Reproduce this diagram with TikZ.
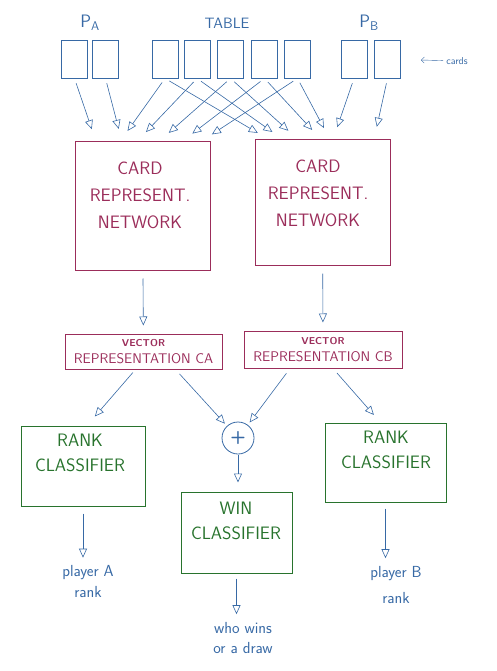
\documentclass[tikz,border=0pt]{standalone}
\usetikzlibrary{arrows.meta}
\definecolor{penblue}{RGB}{55,105,165}
\definecolor{penred}{RGB}{155,45,90}
\definecolor{pengreen}{RGB}{40,115,45}

\begin{document}
\begin{tikzpicture}[x=1pt, y=-1pt, every node/.style={font=\sffamily, inner sep=0pt},
	card/.style={draw=penblue, thick, minimum width=26pt, minimum height=38pt},
	netbox/.style={draw=penred, line width=1pt},
	clsbox/.style={draw=pengreen, line width=1pt},
	redtxt/.style={text=penred, align=center, font=\sffamily\fontsize{18}{27}\selectfont},
	greentxt/.style={text=pengreen, align=center, font=\sffamily\fontsize{18}{25}\selectfont},
	bluetxt/.style={text=penblue, align=center, font=\sffamily\fontsize{16}{21}\selectfont},
	flow/.style={draw=penblue, semithick, -{Triangle[open, length=9pt, width=8pt]}}]

	\useasboundingbox (0,0) rectangle (496,671);

	% cards
	\node[card] (pa1) at (74.5,59) {};
	\node[card] (pa2) at (105.5,59) {};
	\node[card] (t1) at (165,59) {};
	\node[card] (t2) at (197,59) {};
	\node[card] (t3) at (230.5,59) {};
	\node[card] (t4) at (264.5,59) {};
	\node[card] (t5) at (297.5,59) {};
	\node[card] (pb1) at (354,59) {};
	\node[card] (pb2) at (387.5,59) {};

	\node[bluetxt, font=\sffamily\fontsize{18}{18}\selectfont] (palbl) at (90,23) {P\textsubscript{A}};
	\node[bluetxt, font=\sffamily\fontsize{15}{15}\selectfont] (tablelbl) at (227,23) {TABLE};
	\node[bluetxt, font=\sffamily\fontsize{18}{18}\selectfont] (pblbl) at (369,23) {P\textsubscript{B}};
	\node[bluetxt, font=\sffamily\fontsize{10}{10}\selectfont] (cardslbl) at (457,61) {cards};
	\coordinate (cardsptr) at (421,60);
	\draw[penblue, shorten <=3pt, -{Straight Barb[length=3pt]}] (cardslbl) -- (cardsptr);

	% networks
	\node[netbox, minimum width=135pt, minimum height=128pt] (neta) at (142.5,206) {};
	\node[netbox, minimum width=135pt, minimum height=125pt] (netb) at (322.5,202.5) {};
	\node[redtxt] (netatxt) at (140,195) {CARD\\REPRESENT.\\NETWORK};
	\node[redtxt] (netbtxt) at (318,193) {CARD\\REPRESENT.\\NETWORK};

	\foreach \c/\s in {pa1/-46.5, pa2/-20.5, t1/-22.5, t2/-5.5, t3/16.5, t4/39.5, t5/58.5}
		\draw[flow, shorten <=5pt, shorten >=13pt] (\c.south) -- ([xshift=\s pt]neta.north);
	\foreach \c/\s in {t1/-53.5, t2/-39.5, t3/-24.5, t4/-1.5, t5/7.5, pb1/10.5, pb2/51.5}
		\draw[flow, shorten <=5pt, shorten >=13pt] (\c.south) -- ([xshift=\s pt]netb.north);

	% vectors
	\node[netbox, minimum width=157pt, minimum height=35pt] (veca) at (143.5,351.5) {};
	\node[netbox, minimum width=158pt, minimum height=37pt] (vecb) at (323,349.5) {};
	\node[redtxt, font=\sffamily\fontsize{14}{17}\selectfont] (vecatxt) at (143.5,352)
		{{\bfseries\fontsize{10}{10}\selectfont VECTOR}\\REPRESENTATION CA};
	\node[redtxt, font=\sffamily\fontsize{14}{17}\selectfont] (vecbtxt) at (323,350)
		{{\bfseries\fontsize{10}{10}\selectfont VECTOR}\\REPRESENTATION CB};

	\draw[flow, shorten <=8pt, shorten >=8pt] (neta) -- (veca);
	\draw[flow, shorten <=8pt, shorten >=8pt] (netb) -- (vecb);

	% classifiers
	\node[draw=penblue, thick, circle, minimum size=32pt, text=penblue, font=\sffamily\bfseries\fontsize{18}{18}\selectfont] (plus) at (238,438) {+};
	\node[clsbox, minimum width=124pt, minimum height=80pt] (ranka) at (83,466) {};
	\node[clsbox, minimum width=111pt, minimum height=81pt] (win) at (236.5,532.5) {};
	\node[clsbox, minimum width=121pt, minimum height=79pt] (rankb) at (385.5,462.5) {};
	\node[greentxt] (rankatxt) at (80,453) {RANK\\CLASSIFIER};
	\node[greentxt] (wintxt) at (236,521) {WIN\\CLASSIFIER};
	\node[greentxt] (rankbtxt) at (386,450) {RANK\\CLASSIFIER};

	\draw[flow, shorten <=4pt, shorten >=12pt] ([xshift=-8pt]veca.south) -- ([xshift=4pt]ranka.north);
	\draw[flow, shorten <=6pt, shorten >=3pt] ([xshift=32pt]veca.south) -- (plus);
	\draw[flow, shorten <=6pt, shorten >=3pt] ([xshift=-33pt]vecb.south) -- (plus);
	\draw[flow, shorten <=6pt, shorten >=10pt] ([xshift=10pt]vecb.south) -- ([xshift=-5pt]rankb.north);
	\draw[flow, shorten <=1pt, shorten >=9pt] (plus) -- (plus |- win.north);

	% outputs
	\node[bluetxt] (outa) at (88,582) {player A\\rank};
	\node[bluetxt, font=\sffamily\fontsize{16}{20}\selectfont] (outwin) at (243,638) {who wins\\or a draw};
	\node[bluetxt, font=\sffamily\fontsize{16}{26}\selectfont] (outb) at (396,585) {player B\\rank};

	\draw[flow, shorten <=7pt, shorten >=8pt] (ranka) -- (ranka |- outa.north);
	\draw[flow, shorten <=5pt, shorten >=8pt] (win) -- (win |- outwin.north);
	\draw[flow, shorten <=6pt, shorten >=8pt] (rankb) -- (rankb |- outb.north);

\end{tikzpicture}
\end{document}
